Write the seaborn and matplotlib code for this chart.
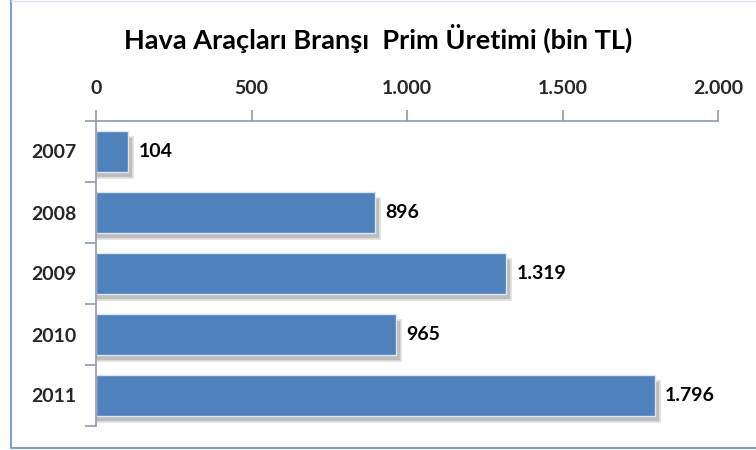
import matplotlib
matplotlib.use('Agg')
import matplotlib.pyplot as plt
from matplotlib.lines import Line2D
from matplotlib.ticker import FuncFormatter, FixedLocator
import seaborn as sns
import numpy as np
import pandas as pd

# Veriler
yillar = ['2007', '2008', '2009', '2010', '2011']
prim = [104, 896, 1319, 965, 1796]
x_ticks = [0, 500, 1000, 1500, 2000]

baslik = 'Hava Araçları Branşı  Prim Üretimi (bin TL)'

def tr_format(v):
    return f"{int(v):,}".replace(',', '.')

df = pd.DataFrame({'yil': yillar, 'prim': prim})

sns.set_theme(style='white')
plt.rcParams['font.family'] = ['Lato', 'DejaVu Sans']
plt.rcParams['font.weight'] = 'bold'

fig = plt.figure(figsize=(7.56, 4.5), dpi=100)
ax = fig.add_axes([96 / 756, 1 - 426 / 450, 622 / 756, 305 / 450])

bar_h = 0.67
# cień (efekt 3D)
ax.barh(np.arange(len(prim)) + 0.1, np.array(prim) + 16, height=bar_h,
        color='#BDBDBD', edgecolor='#E0E0E0', linewidth=1.2, zorder=1)
sns.barplot(data=df, x='prim', y='yil', orient='h', color='#4F81BD',
            saturation=1, width=bar_h, edgecolor='#DCE6F2', linewidth=1.0,
            ax=ax, zorder=2)

ax.set_xlim(0, 2000)
ax.set_ylim(4.5, -0.5)
ax.xaxis.tick_top()
ax.xaxis.set_major_locator(FixedLocator(x_ticks))
ax.xaxis.set_major_formatter(FuncFormatter(lambda v, p: tr_format(v)))
ax.set_xlabel('')
ax.set_ylabel('')

for s in ['right', 'bottom']:
    ax.spines[s].set_visible(False)
for s in ['top', 'left']:
    ax.spines[s].set_color('#8C99AE')
    ax.spines[s].set_linewidth(1.2)

ax.tick_params(axis='x', top=True, direction='out', length=8, width=1.2,
               color='#8C99AE', pad=9, labelsize=14)
ax.tick_params(axis='y', which='major', left=False, length=0, pad=14, labelsize=14)
ax.set_yticks(np.arange(-0.5, 5, 1), minor=True)
ax.tick_params(axis='y', which='minor', left=True, direction='out', length=8,
               width=1.2, color='#8C99AE')
for lbl in ax.get_xticklabels() + ax.get_yticklabels():
    lbl.set_fontweight('bold')

# etykiety wartości
for i, v in enumerate(prim):
    ax.text(v + 34, i, tr_format(v), va='center', ha='left',
            fontsize=14, fontweight='bold', color='black')

fig.text(0.5, 1 - 38 / 450, baslik, ha='center', va='center',
         fontsize=19.5, fontweight='bold', color='black')

# ramka wykresu
fig.add_artist(Line2D([11 / 756, 11 / 756], [2 / 450, 1], color='#7F9FCF', lw=1.5))
fig.add_artist(Line2D([11 / 756, 1], [2 / 450, 2 / 450], color='#7F9FCF', lw=1.5))
fig.add_artist(Line2D([11 / 756, 1], [1 - 1 / 450, 1 - 1 / 450], color='#E4E8EE', lw=1))

fig.savefig('out.png', dpi=100)
